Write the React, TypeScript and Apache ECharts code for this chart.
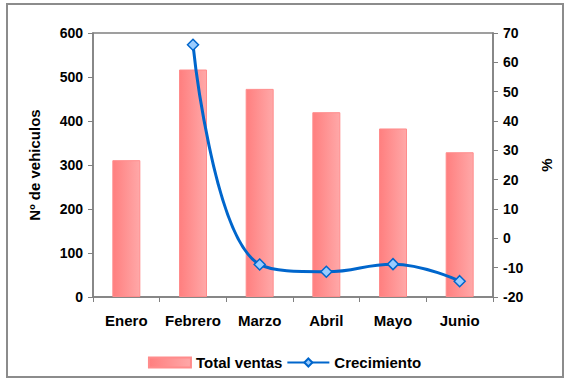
import React, { useEffect, useRef } from "react";
import * as echarts from "echarts";

const categories = ["Enero", "Febrero", "Marzo", "Abril", "Mayo", "Junio"];
const totalVentas = [311, 517, 473, 420, 383, 329];
const crecimiento: (number | null)[] = [null, 66, -8.9, -11.4, -8.8, -14.6];

const font = "'Liberation Sans', Arial, sans-serif";

export default function App() {
  const ref = useRef<HTMLDivElement>(null);
  useEffect(() => {
    if (!ref.current) return;
    const chart = echarts.init(ref.current, null, { renderer: "svg" });
    const axisLabel = { color: "#000", fontSize: 14, fontWeight: "bold" as const, fontFamily: font };
    const nameStyle = { color: "#000", fontSize: 15, fontWeight: "bold" as const, fontFamily: font };
    chart.setOption({
      animation: false,
      backgroundColor: "#fff",
      graphic: [
        {
          type: "rect",
          shape: { x: 7, y: 4, width: 556, height: 373 },
          style: { fill: "none", stroke: "#8c8c8c", lineWidth: 2 },
          silent: true,
        },
      ],
      grid: { left: 93, right: 76, top: 33, bottom: 83, show: true, borderColor: "#808080", borderWidth: 1.5 },
      legend: {
        bottom: 5,
        left: "center",
        itemGap: 4,
        itemWidth: 42,
        itemHeight: 10,
        textStyle: { color: "#000", fontSize: 15, fontWeight: "bold", fontFamily: font },
        data: [
          { name: "Total ventas", icon: "rect" },
          { name: "Crecimiento" },
        ],
      },
      xAxis: {
        type: "category",
        data: categories,
        axisLine: { lineStyle: { color: "#808080", width: 1.5 } },
        axisTick: { show: true, alignWithLabel: false, length: 5, lineStyle: { color: "#808080" } },
        axisLabel: { ...axisLabel, fontSize: 15, margin: 16, interval: 0 },
      },
      yAxis: [
        {
          type: "value",
          min: 0,
          max: 600,
          interval: 100,
          name: "Nº de vehiculos",
          nameLocation: "middle",
          nameGap: 51,
          nameTextStyle: nameStyle,
          axisLine: { show: true, lineStyle: { color: "#808080", width: 1.5 } },
          axisTick: { show: true, length: 5, lineStyle: { color: "#808080" } },
          axisLabel: { ...axisLabel, margin: 10 },
          splitLine: { show: false },
        },
        {
          type: "value",
          min: -20,
          max: 70,
          interval: 10,
          position: "right",
          name: "%",
          nameLocation: "middle",
          nameGap: 46,
          nameRotate: 90,
          nameTextStyle: nameStyle,
          axisLine: { show: true, lineStyle: { color: "#808080", width: 1.5 } },
          axisTick: { show: true, length: 5, lineStyle: { color: "#808080" } },
          axisLabel: { ...axisLabel, margin: 10 },
          splitLine: { show: false },
        },
      ],
      series: [
        {
          name: "Total ventas",
          type: "bar",
          data: totalVentas,
          barWidth: "42%",
          itemStyle: {
            color: new echarts.graphic.LinearGradient(0, 0, 1, 0, [
              { offset: 0, color: "#ff7f7f" },
              { offset: 1, color: "#ffa8a8" },
            ]),
            borderColor: "#ff8c8c",
            borderWidth: 1,
          },
        },
        {
          name: "Crecimiento",
          type: "line",
          yAxisIndex: 1,
          data: crecimiento,
          smooth: 0.45,
          symbol: "diamond",
          symbolSize: 11,
          lineStyle: { color: "#0066cc", width: 3 },
          itemStyle: { color: "#99ccff", borderColor: "#0066cc", borderWidth: 1.5 },
        },
      ],
    });
    return () => chart.dispose();
  }, []);
  return (
    <div
      ref={ref}
      style={{ position: "fixed", left: 0, top: 0, width: 569, height: 380 }}
    />
  );
}
